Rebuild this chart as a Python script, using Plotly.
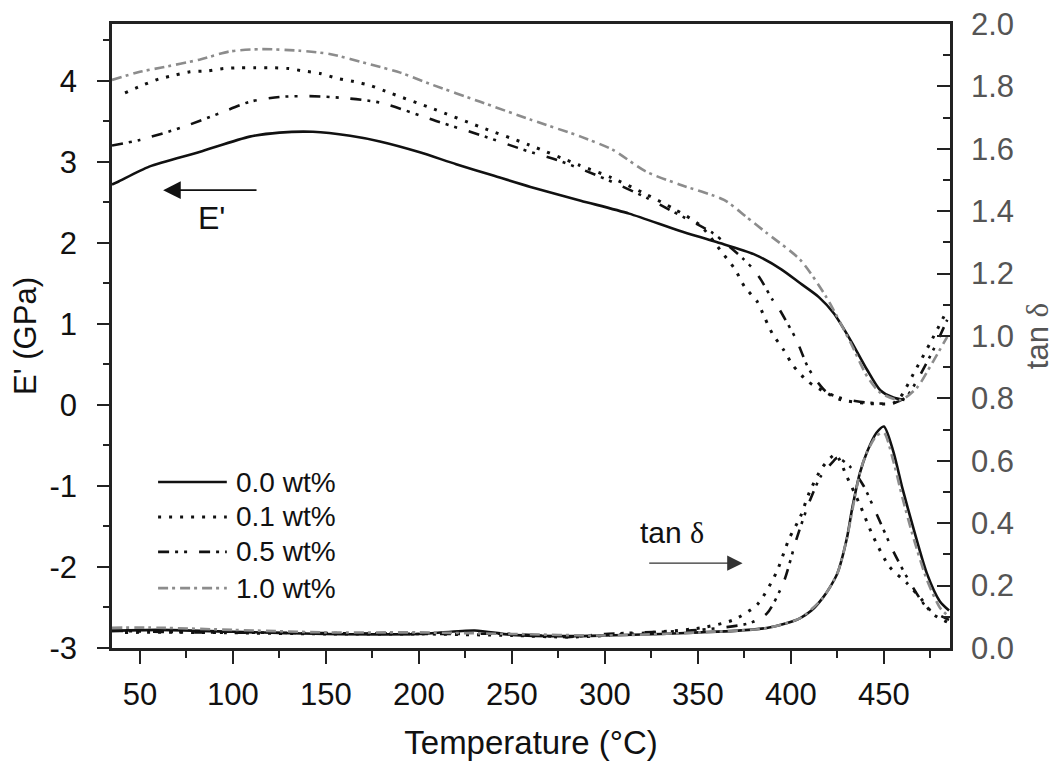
import plotly.graph_objects as go

# ---------------- data ----------------
# Storage modulus E' (GPa), left axis
T_E_00 = [35, 38, 55, 82, 109, 125, 143, 163, 179, 200, 220, 240, 260, 287, 313, 340, 360, 380, 395, 405, 415, 423, 432, 441, 448, 455, 461]
E_00 = [2.72, 2.75, 2.94, 3.12, 3.31, 3.36, 3.37, 3.32, 3.25, 3.12, 2.97, 2.83, 2.69, 2.52, 2.36, 2.15, 2.01, 1.86, 1.67, 1.50, 1.33, 1.13, 0.80, 0.43, 0.18, 0.09, 0.06]

T_E_01 = [42, 52, 60, 69, 77, 86, 95, 104, 112, 121, 130, 138, 147, 156, 165, 174, 182, 208, 233, 259, 286, 304, 322, 337, 351, 363, 370, 375, 382, 386, 390, 396, 401, 409, 419, 426, 440, 455, 459, 466, 475, 484]
E_01 = [3.85, 3.95, 4.02, 4.07, 4.11, 4.12, 4.15, 4.16, 4.16, 4.16, 4.15, 4.12, 4.09, 4.03, 3.99, 3.94, 3.87, 3.65, 3.43, 3.21, 2.96, 2.80, 2.60, 2.42, 2.22, 1.88, 1.67, 1.46, 1.27, 1.07, 0.88, 0.68, 0.49, 0.29, 0.15, 0.07, 0.02, 0.02, 0.10, 0.39, 0.77, 1.17]

T_E_05 = [35, 50, 72, 93, 109, 125, 141, 158, 179, 211, 233, 256, 277, 301, 322, 337, 358, 364, 374, 380, 384, 390, 394, 398, 403, 409, 414, 419, 426, 440, 455, 462, 468, 477, 484]
E_05 = [3.20, 3.27, 3.42, 3.60, 3.74, 3.80, 3.81, 3.79, 3.73, 3.49, 3.33, 3.15, 3.00, 2.78, 2.56, 2.38, 2.12, 2.01, 1.81, 1.67, 1.54, 1.30, 1.17, 1.01, 0.80, 0.47, 0.29, 0.16, 0.09, 0.03, 0.02, 0.10, 0.31, 0.70, 1.05]

T_E_10 = [35, 50, 61, 82, 98, 115, 136, 152, 174, 190, 206, 233, 260, 287, 304, 322, 340, 364, 376, 387, 405, 419, 432, 441, 448, 459, 468, 476, 484]
E_10 = [4.01, 4.11, 4.16, 4.26, 4.36, 4.39, 4.37, 4.33, 4.20, 4.10, 3.96, 3.74, 3.52, 3.31, 3.15, 2.88, 2.72, 2.53, 2.32, 2.12, 1.79, 1.33, 0.77, 0.35, 0.15, 0.06, 0.22, 0.52, 0.84]

# Loss factor tan delta, right axis
T_D_00 = [35, 60, 100, 150, 200, 230, 250, 280, 300, 330, 351, 370, 387, 398, 405, 411, 417, 421, 425, 430, 433, 437, 441, 446, 450, 455, 460, 466, 473, 480, 485]
D_00 = [0.055, 0.058, 0.052, 0.045, 0.045, 0.056, 0.042, 0.038, 0.040, 0.045, 0.050, 0.055, 0.064, 0.080, 0.096, 0.120, 0.160, 0.195, 0.240, 0.350, 0.450, 0.560, 0.630, 0.690, 0.710, 0.630, 0.510, 0.380, 0.240, 0.150, 0.120]

T_D_01 = [42, 80, 150, 200, 250, 280, 300, 351, 369, 382, 392, 399, 405, 410, 417, 424, 430, 437, 444, 453, 462, 471, 476, 485]
D_01 = [0.050, 0.050, 0.045, 0.045, 0.040, 0.035, 0.040, 0.064, 0.090, 0.140, 0.240, 0.350, 0.420, 0.500, 0.580, 0.620, 0.550, 0.460, 0.360, 0.260, 0.210, 0.150, 0.110, 0.080]

T_D_05 = [35, 80, 150, 200, 250, 280, 300, 351, 378, 387, 396, 403, 410, 416, 423, 425, 432, 439, 446, 455, 464, 473, 485]
D_05 = [0.055, 0.050, 0.048, 0.045, 0.045, 0.035, 0.045, 0.058, 0.080, 0.110, 0.210, 0.350, 0.470, 0.550, 0.600, 0.610, 0.580, 0.520, 0.430, 0.310, 0.210, 0.130, 0.090]

T_D_10 = [35, 60, 100, 150, 200, 250, 300, 351, 387, 405, 417, 425, 430, 437, 441, 446, 450, 455, 460, 466, 473, 480, 485]
D_10 = [0.065, 0.065, 0.058, 0.050, 0.050, 0.045, 0.040, 0.050, 0.064, 0.096, 0.160, 0.240, 0.350, 0.560, 0.630, 0.680, 0.690, 0.600, 0.480, 0.350, 0.220, 0.130, 0.100]

labels = ["0.0 wt%", "0.1 wt%", "0.5 wt%", "1.0 wt%"]
x_ticks = [50, 100, 150, 200, 250, 300, 350, 400, 450]
y_ticks = [-3, -2, -1, 0, 1, 2, 3, 4]
y_ticktext = ["-3", "-2", "-1", "0", "1", "2", "3", "4"]

# ---------------- styles ----------------
FONT = "Liberation Sans, Arial, sans-serif"
BLACK = "#111111"
GRAY = "#8c8c8c"
styles = [
    dict(color=BLACK, width=2.6, dash="solid"),
    dict(color=BLACK, width=3.0, dash="3px,8px"),
    dict(color=BLACK, width=2.6, dash="11px,6px,3px,6px,3px,12px"),
    dict(color=GRAY, width=2.6, dash="10px,4px,3px,5px"),
]

E_sets = [(T_E_00, E_00), (T_E_01, E_01), (T_E_05, E_05), (T_E_10, E_10)]
D_sets = [(T_D_00, D_00), (T_D_01, D_01), (T_D_05, D_05), (T_D_10, D_10)]

fig = go.Figure()
for (tx, ty), st, lab in zip(E_sets, styles, labels):
    fig.add_trace(go.Scatter(x=tx, y=ty, mode="lines", name=lab, yaxis="y",
                             line=dict(shape="spline", smoothing=0.7, **st), showlegend=False))
for (tx, ty), st, lab in zip(D_sets, styles, labels):
    fig.add_trace(go.Scatter(x=tx, y=ty, mode="lines", name=lab, yaxis="y2",
                             line=dict(shape="spline", smoothing=0.7, **st), showlegend=False))

# ---------------- manual legend ----------------
shapes = []
annotations = []
leg_y = [0.266, 0.210, 0.154, 0.096]
for st, lab, yy in zip(styles, labels, leg_y):
    shapes.append(dict(type="line", xref="paper", yref="paper", x0=0.055, x1=0.137, y0=yy, y1=yy,
                       line=dict(color=st["color"], width=st["width"], dash=st["dash"])))
    annotations.append(dict(xref="paper", yref="paper", x=0.145, y=yy, text=lab, showarrow=False,
                            xanchor="left", yanchor="middle", font=dict(family=FONT, size=28, color="#111")))

# E' label and arrow
annotations.append(dict(x=62.5, y=2.65, ax=113.5, ay=2.65, xref="x", yref="y", axref="x", ayref="y",
                        text="", showarrow=True, arrowhead=2, arrowsize=2.2, arrowwidth=1.6,
                        arrowcolor="#111", standoff=0))
annotations.append(dict(x=88.5, y=2.31, xref="x", yref="y", text="E'", showarrow=False,
                        font=dict(family=FONT, size=32, color="#111")))
# tan delta label and arrow
annotations.append(dict(x=374, y=0.272, ax=323, ay=0.272, xref="x", yref="y2", axref="x", ayref="y2",
                        text="", showarrow=True, arrowhead=2, arrowsize=2.2, arrowwidth=1.4,
                        arrowcolor="#333", standoff=0))
annotations.append(dict(x=336, y=0.37, xref="x", yref="y2",
                        text="tan <span style='font-family:Liberation Serif'>δ</span>", showarrow=False,
                        font=dict(family=FONT, size=30, color="#111")))

AX = "#222222"
fig.update_layout(
    width=1058, height=761,
    margin=dict(l=112, r=108, t=24, b=113),
    paper_bgcolor="white", plot_bgcolor="white",
    font=dict(family=FONT, color="#111"),
    showlegend=False,
    shapes=shapes, annotations=annotations,
    xaxis=dict(range=[35, 485.5], showline=True, linecolor=AX, linewidth=2.5, mirror=True, automargin=False,
               tickvals=x_ticks, ticks="outside", ticklen=13, tickwidth=2, tickcolor=AX,
               minor=dict(dtick=25, tick0=0, ticks="outside", ticklen=7, tickwidth=2, tickcolor=AX),
               showgrid=False, zeroline=False, tickfont=dict(size=31, color="#111"),
               ticklabelstandoff=4,
               title=dict(text="Temperature (°C)", font=dict(size=33, color="#111"), standoff=32)),
    yaxis=dict(range=[-3, 4.7], showline=True, linecolor=AX, linewidth=2.5, automargin=False,
               tickvals=y_ticks, ticktext=y_ticktext, ticks="outside", ticklen=12, tickwidth=2, tickcolor=AX,
               minor=dict(dtick=0.5, tick0=0, ticks="outside", ticklen=6, tickwidth=2, tickcolor=AX),
               showgrid=False, zeroline=False, tickfont=dict(size=31, color="#111"),
               ticklabelstandoff=14,
               title=dict(text="E' (GPa)", font=dict(size=31, color="#111"), standoff=4)),
    yaxis2=dict(range=[0, 2.0], overlaying="y", side="right", showline=True, linecolor=AX, linewidth=2.5,
                automargin=False,
                dtick=0.2, tick0=0, tickformat=".1f", ticks="inside", ticklen=13, tickwidth=2, tickcolor=AX,
                minor=dict(dtick=0.1, tick0=0, ticks="inside", ticklen=7, tickwidth=2, tickcolor=AX),
                showgrid=False, zeroline=False, tickfont=dict(size=31, color="#555"),
                ticklabelstandoff=12,
                title=dict(text="tan <span style='font-family:Liberation Serif'>δ</span>",
                           font=dict(size=31, color="#555"), standoff=14)),
)

fig.write_html("out.html")
